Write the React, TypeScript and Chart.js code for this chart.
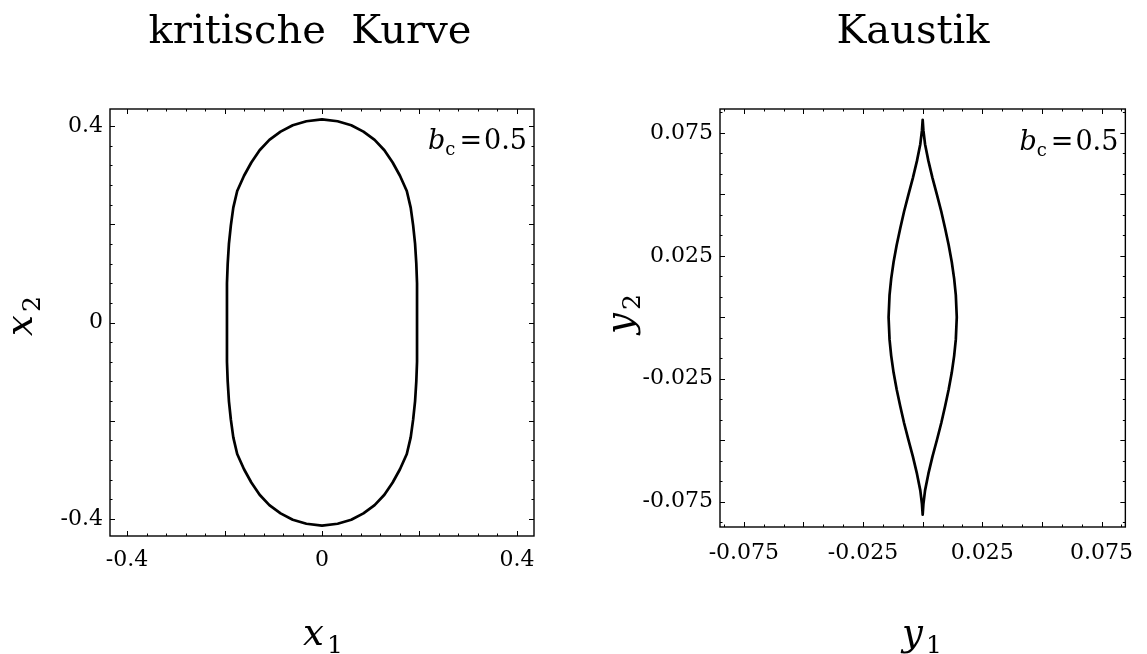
import React, { useEffect, useRef } from "react";
import { Chart, registerables } from "chart.js";

Chart.register(...registerables);

// ---------- data ----------
const CRIT_X = [
  0, 0.032, 0.06, 0.085, 0.108, 0.128, 0.145, 0.16, 0.174, 0.182, 0.187, 0.191, 0.1935, 0.195, 0.195, 0.195,
  0.195, 0.195, 0.1935, 0.191, 0.187, 0.182, 0.174, 0.16, 0.145, 0.128, 0.108, 0.085, 0.06, 0.032, 0,
  -0.032, -0.06, -0.085, -0.108, -0.128, -0.145, -0.16, -0.174, -0.182, -0.187, -0.191, -0.1935, -0.195, -0.195, -0.195,
  -0.195, -0.195, -0.1935, -0.191, -0.187, -0.182, -0.174, -0.16, -0.145, -0.128, -0.108, -0.085, -0.06, -0.032, 0,
];
const CRIT_Y = [
  0.414, 0.41, 0.402, 0.389, 0.372, 0.351, 0.326, 0.299, 0.268, 0.234, 0.198, 0.16, 0.12, 0.08, 0.04, 0,
  -0.04, -0.08, -0.12, -0.16, -0.198, -0.234, -0.268, -0.299, -0.326, -0.351, -0.372, -0.389, -0.402, -0.41, -0.414,
  -0.41, -0.402, -0.389, -0.372, -0.351, -0.326, -0.299, -0.268, -0.234, -0.198, -0.16, -0.12, -0.08, -0.04, 0,
  0.04, 0.08, 0.12, 0.16, 0.198, 0.234, 0.268, 0.299, 0.326, 0.351, 0.372, 0.389, 0.402, 0.41, 0.414,
];

const CAUS_X = [
  0, 0.0003, 0.001, 0.0024, 0.0041, 0.006, 0.0078, 0.0094, 0.0109, 0.0122, 0.0132, 0.0139, 0.0143,
  0.0139, 0.0132, 0.0122, 0.0109, 0.0094, 0.0078, 0.006, 0.0041, 0.0024, 0.001, 0.0003, 0,
  -0.0003, -0.001, -0.0024, -0.0041, -0.006, -0.0078, -0.0094, -0.0109, -0.0122, -0.0132, -0.0139, -0.0143,
  -0.0139, -0.0132, -0.0122, -0.0109, -0.0094, -0.0078, -0.006, -0.0041, -0.0024, -0.001, -0.0003, 0,
];
const CAUS_Y = [
  0.0803, 0.076, 0.0704, 0.0636, 0.0567, 0.0498, 0.043, 0.0362, 0.0294, 0.0225, 0.0157, 0.009, 0,
  -0.009, -0.0157, -0.0225, -0.0294, -0.0362, -0.043, -0.0498, -0.0567, -0.0636, -0.0704, -0.076, -0.0803,
  -0.076, -0.0704, -0.0636, -0.0567, -0.0498, -0.043, -0.0362, -0.0294, -0.0225, -0.0157, -0.009, 0,
  0.009, 0.0157, 0.0225, 0.0294, 0.0362, 0.043, 0.0498, 0.0567, 0.0636, 0.0704, 0.076, 0.0803,
];

const LEFT_RANGE = [-0.435, 0.435];
const LEFT_MAJOR = [-0.4, -0.2, 0, 0.2, 0.4];
const LEFT_LABELS = [-0.4, 0, 0.4];
const LEFT_MINOR_DIV = 5;

const RIGHT_X_RANGE = [-0.085, 0.085];
const RIGHT_Y_RANGE = [-0.0853, 0.0847];
const RIGHT_MAJOR = [-0.075, -0.05, -0.025, 0, 0.025, 0.05, 0.075];
const RIGHT_LABELS = [-0.075, -0.025, 0.025, 0.075];
const RIGHT_MINOR_DIV = 3;

const TITLES = ["kritische  Kurve", "Kaustik"];
const X_LABELS = [["x", "1"], ["y", "1"]];
const Y_LABELS = [["x", "2"], ["y", "2"]];
const PARAM_LABEL = ["b", "c", "=", "0.5"];

const SERIF = '"DejaVu Serif", serif';

function minorTicks(major: number[], div: number, min: number, max: number) {
  const step = (major[1] - major[0]) / div;
  const out: number[] = [];
  const start = major[0];
  for (let k = -50; k <= 50 * div; k++) {
    const v = start + k * step;
    if (v < min - 1e-9 || v > max + 1e-9) continue;
    if (k % div === 0) continue;
    out.push(v);
  }
  return out;
}

type PanelSpec = {
  canvasLeft: number;
  width: number;
  height: number;
  xs: number[];
  ys: number[];
  xRange: number[];
  yRange: number[];
  major: number[];
  labels: number[];
  minorDiv: number;
  yAxisW: number;
  xAxisH: number;
  padRight: number;
  padTop: number;
  xTickPad: number;
  title: string;
  titleX: number;
  xLabel: string[];
  xLabelX: number;
  yLabel: string[];
  yLabelBase: number;
  yLabelY: number;
  paramBase: number;
};

function drawSub(ctx: CanvasRenderingContext2D, main: string, sub: string, cx: number, by: number, mainSize: number, subSize: number, drop: number) {
  ctx.font = `italic ${mainSize}px ${SERIF}`;
  const w1 = ctx.measureText(main).width;
  ctx.font = `${subSize}px ${SERIF}`;
  const w2 = ctx.measureText(sub).width;
  const gap = 3;
  const start = cx - (w1 + gap + w2) / 2;
  ctx.textAlign = "left";
  ctx.textBaseline = "alphabetic";
  ctx.font = `italic ${mainSize}px ${SERIF}`;
  ctx.fillText(main, start, by);
  ctx.font = `${subSize}px ${SERIF}`;
  ctx.fillText(sub, start + w1 + gap, by + drop);
}

function makeDecor(p: PanelSpec) {
  return {
    id: "decor",
    afterDraw(chart: any) {
      const { ctx, chartArea: a, scales } = chart;
      const xs = scales.x;
      const ys = scales.y;
      ctx.save();
      ctx.strokeStyle = "#000";
      ctx.fillStyle = "#000";
      // ticks
      const xMin = minorTicks(p.major, p.minorDiv, p.xRange[0], p.xRange[1]);
      const yMin = minorTicks(p.major, p.minorDiv, p.yRange[0], p.yRange[1]);
      ctx.lineWidth = 1;
      const tickX = (v: number, len: number) => {
        const px = Math.round(xs.getPixelForValue(v)) + 0.5;
        ctx.beginPath();
        ctx.moveTo(px, a.bottom);
        ctx.lineTo(px, a.bottom - len);
        ctx.moveTo(px, a.top);
        ctx.lineTo(px, a.top + len);
        ctx.stroke();
      };
      const tickY = (v: number, len: number) => {
        const py = Math.round(ys.getPixelForValue(v)) + 0.5;
        ctx.beginPath();
        ctx.moveTo(a.left, py);
        ctx.lineTo(a.left + len, py);
        ctx.moveTo(a.right, py);
        ctx.lineTo(a.right - len, py);
        ctx.stroke();
      };
      p.major.forEach((v) => { if (v >= p.xRange[0] && v <= p.xRange[1]) tickX(v, 5); });
      xMin.forEach((v) => tickX(v, 2.5));
      p.major.forEach((v) => { if (v >= p.yRange[0] && v <= p.yRange[1]) tickY(v, 5); });
      yMin.forEach((v) => tickY(v, 2.5));
      // frame
      ctx.lineWidth = 1.4;
      ctx.strokeRect(a.left, a.top, a.right - a.left, a.bottom - a.top);

      // title
      ctx.font = `40px ${SERIF}`;
      ctx.textAlign = "center";
      ctx.textBaseline = "alphabetic";
      ctx.fillText(p.title, p.titleX - p.canvasLeft, 43);

      // x axis label
      drawSub(ctx, p.xLabel[0], p.xLabel[1], p.xLabelX - p.canvasLeft, 645, 37, 25, 8);

      // y axis label (rotated)
      ctx.save();
      ctx.translate(p.yLabelBase - p.canvasLeft, p.yLabelY);
      ctx.rotate(-Math.PI / 2);
      drawSub(ctx, p.yLabel[0], p.yLabel[1], 0, 0, 37, 25, 8);
      ctx.restore();

      // parameter label b_c = 0.5
      const size = 27;
      ctx.textAlign = "left";
      ctx.font = `italic ${size}px ${SERIF}`;
      const wb = ctx.measureText(PARAM_LABEL[0]).width;
      ctx.font = `18px ${SERIF}`;
      const wc = ctx.measureText(PARAM_LABEL[1]).width;
      ctx.font = `${size}px ${SERIF}`;
      const weq = ctx.measureText(PARAM_LABEL[2]).width;
      const wn = ctx.measureText(PARAM_LABEL[3]).width;
      const right = a.right - 7;
      const total = wb + wc + 4 + weq + 2 + wn;
      let x0 = right - total;
      const base = p.paramBase;
      ctx.font = `italic ${size}px ${SERIF}`;
      ctx.fillText(PARAM_LABEL[0], x0, base);
      x0 += wb;
      ctx.font = `18px ${SERIF}`;
      ctx.fillText(PARAM_LABEL[1], x0, base + 6);
      x0 += wc + 4;
      ctx.font = `${size}px ${SERIF}`;
      ctx.fillText(PARAM_LABEL[2], x0, base);
      x0 += weq + 2;
      ctx.fillText(PARAM_LABEL[3], x0, base);
      ctx.restore();
    },
  };
}

function makeConfig(p: PanelSpec): any {
  const tickFont = { family: SERIF, size: 22 };
  return {
    type: "scatter",
    data: {
      datasets: [
        {
          data: p.xs.map((x, i) => ({ x, y: p.ys[i] })),
          showLine: true,
          borderColor: "#000",
          borderWidth: 2.7,
          pointRadius: 0,
          pointHoverRadius: 0,
          tension: 0,
          fill: false,
          borderJoinStyle: "round",
          borderCapStyle: "round",
        },
      ],
    },
    options: {
      responsive: false,
      maintainAspectRatio: false,
      animation: false,
      events: [],
      layout: { padding: { left: 0, right: p.padRight, top: p.padTop, bottom: 0 } },
      plugins: { legend: { display: false }, tooltip: { enabled: false }, title: { display: false } },
      scales: {
        x: {
          type: "linear",
          position: "bottom",
          min: p.xRange[0],
          max: p.xRange[1],
          grid: { display: false, drawTicks: false },
          border: { display: false },
          ticks: {
            font: tickFont,
            color: "#000",
            padding: p.xTickPad,
            maxRotation: 0,
            autoSkip: false,
            callback: (v: number) => String(v),
          },
          afterBuildTicks: (s: any) => {
            s.ticks = p.labels.filter((v) => v >= p.xRange[0] && v <= p.xRange[1]).map((v) => ({ value: v }));
          },
          afterFit: (s: any) => {
            s.height = p.xAxisH;
          },
        },
        y: {
          type: "linear",
          position: "left",
          min: p.yRange[0],
          max: p.yRange[1],
          grid: { display: false, drawTicks: false },
          border: { display: false },
          ticks: {
            font: tickFont,
            color: "#000",
            padding: 7,
            autoSkip: false,
            callback: (v: number) => String(v),
          },
          afterBuildTicks: (s: any) => {
            s.ticks = p.labels.filter((v) => v >= p.yRange[0] && v <= p.yRange[1]).map((v) => ({ value: v }));
          },
          afterFit: (s: any) => {
            s.width = p.yAxisW;
          },
        },
      },
    },
    plugins: [makeDecor(p)],
  };
}

const LEFT_PANEL: PanelSpec = {
  canvasLeft: 0,
  width: 580,
  height: 654,
  xs: CRIT_X,
  ys: CRIT_Y,
  xRange: LEFT_RANGE,
  yRange: LEFT_RANGE,
  major: LEFT_MAJOR,
  labels: LEFT_LABELS,
  minorDiv: LEFT_MINOR_DIV,
  yAxisW: 110,
  xAxisH: 118,
  padRight: 46,
  padTop: 109,
  xTickPad: 11,
  title: TITLES[0],
  titleX: 310,
  xLabel: X_LABELS[0],
  xLabelX: 323,
  yLabel: Y_LABELS[0],
  yLabelBase: 32,
  yLabelY: 316,
  paramBase: 149,
};

const RIGHT_PANEL: PanelSpec = {
  canvasLeft: 580,
  width: 567,
  height: 654,
  xs: CAUS_X,
  ys: CAUS_Y,
  xRange: RIGHT_X_RANGE,
  yRange: RIGHT_Y_RANGE,
  major: RIGHT_MAJOR,
  labels: RIGHT_LABELS,
  minorDiv: RIGHT_MINOR_DIV,
  yAxisW: 140,
  xAxisH: 127,
  padRight: 17,
  padTop: 109,
  xTickPad: 13,
  title: TITLES[1],
  titleX: 913,
  xLabel: X_LABELS[1],
  xLabelX: 922,
  yLabel: Y_LABELS[1],
  yLabelBase: 632,
  yLabelY: 314,
  paramBase: 150,
};

function Panel({ spec }: { spec: PanelSpec }) {
  const ref = useRef<HTMLCanvasElement | null>(null);
  useEffect(() => {
    if (!ref.current) return;
    const chart = new Chart(ref.current, makeConfig(spec));
    return () => chart.destroy();
  }, [spec]);
  return (
    <canvas
      ref={ref}
      width={spec.width}
      height={spec.height}
      style={{ position: "absolute", left: spec.canvasLeft, top: 0, width: spec.width, height: spec.height }}
    />
  );
}

export default function App() {
  return (
    <div style={{ position: "absolute", left: 0, top: 0, width: 1147, height: 654, background: "#fff", overflow: "hidden" }}>
      <Panel spec={LEFT_PANEL} />
      <Panel spec={RIGHT_PANEL} />
    </div>
  );
}
